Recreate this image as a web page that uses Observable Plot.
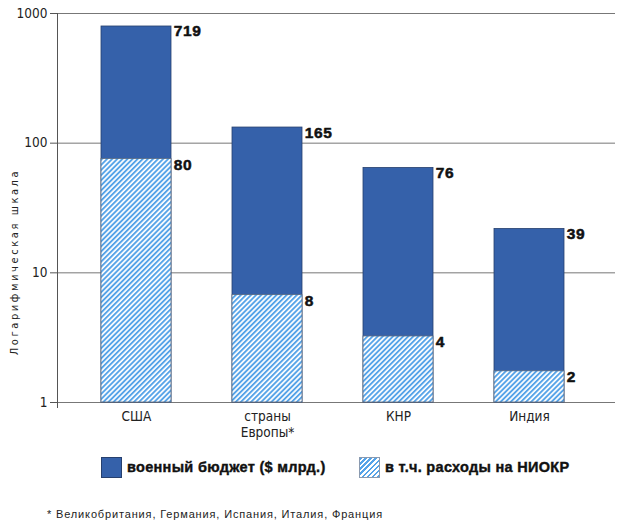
<!DOCTYPE html>
<html><head><meta charset="utf-8">
<script src="https://cdn.jsdelivr.net/npm/d3@7"></script>
<script src="https://cdn.jsdelivr.net/npm/@observablehq/plot@0.6"></script>
<style>
body{margin:0;background:#fff;font-family:"Liberation Sans",Arial,sans-serif;}
#wrap{position:relative;width:620px;height:530px;overflow:hidden;}
#wrap svg{position:absolute;left:0;top:0;}
.ylab{position:absolute;left:14px;top:262px;transform:translate(-50%,-50%) rotate(-90deg);white-space:nowrap;font-size:11px;letter-spacing:2.6px;color:#222;font-family:"DejaVu Sans Condensed","Liberation Sans",sans-serif;}
.leg{position:absolute;top:457px;height:21px;}
.sw{position:absolute;top:0;width:21px;height:21px;box-sizing:border-box;}
.lt{position:absolute;top:2px;white-space:nowrap;font-weight:bold;font-size:14.5px;letter-spacing:0.3px;color:#111;-webkit-text-stroke:0.4px #111;}
.foot{position:absolute;left:47px;top:508px;white-space:nowrap;font-size:11px;letter-spacing:0.85px;color:#222;}
.vlab{letter-spacing:0.6px;}
</style></head><body><div id="wrap"></div>
<script>
const countries = ["США", "страны\nЕвропы*", "КНР", "Индия"];
const budget = [794, 132, 64.4, 21.8];
const rnd = [75.5, 6.73, 3.23, 1.74];
const budgetLabels = ["719", "165", "76", "39"];
const rndLabels = ["80", "8", "4", "2"];
const yTicks = [1, 10, 100, 1000];
const legendLabels = ["военный бюджет ($ млрд.)", "в т.ч. расходы на НИОКР"];
const yLabel = "Логарифмическая шкала";
const footnote = "* Великобритания, Германия, Испания, Италия, Франция";

const data = countries.map((c, i) => ({country: c, budget: budget[i], rnd: rnd[i], bl: budgetLabels[i], rl: rndLabels[i]}));

const blue = "#3561aa";
const narrow = "'DejaVu Sans Condensed','Liberation Sans',sans-serif";
const bold = "'Liberation Sans',Arial,sans-serif";
const bw = 70.5;

const chart = Plot.plot({
  width: 620,
  height: 440,
  marginLeft: 57,
  marginRight: 5,
  marginTop: 13,
  marginBottom: 38,
  x: {domain: countries, range: [55, 611], paddingInner: 0.4627, paddingOuter: 0.35, label: null},
  y: {type: "log", domain: [1, 1000], label: null},
  marks: [
    Plot.ruleY(yTicks, {stroke: "#777", strokeWidth: 1}),
    Plot.barY(data, {x: "country", y1: 1, y2: "budget", fill: blue, stroke: "#27406e", strokeWidth: 0.8}),
    Plot.barY(data, {x: "country", y1: 1, y2: "rnd", fill: "url(#hatch)", stroke: "#5a6a80", strokeWidth: 0.8}),
    Plot.text(data, {x: "country", y: "budget", text: "bl", textAnchor: "start", dx: bw / 2 + 2, dy: 5, fontWeight: "bold", fontSize: 15.5, fontFamily: bold, fill: "#111", stroke: "#111", strokeWidth: 0.5, className: "vlab"}),
    Plot.text(data, {x: "country", y: "rnd", text: "rl", textAnchor: "start", dx: bw / 2 + 2, dy: 6, fontWeight: "bold", fontSize: 15.5, fontFamily: bold, fill: "#111", stroke: "#111", strokeWidth: 0.5, className: "vlab"}),
    Plot.axisY({ticks: yTicks, tickFormat: d => String(d), tickSize: 7, tickPadding: 3, fontSize: 13.5, fontFamily: narrow, label: null, stroke: "#555", fill: "#222"}),
    Plot.axisX({tickSize: 0, tickPadding: 7, fontSize: 13.5, fontFamily: narrow, label: null, fill: "#222", lineHeight: 1.2})
  ]
});

// hatch pattern
const svg = d3.select(chart);
const defs = svg.insert("defs", ":first-child");
const pat = defs.append("pattern").attr("id", "hatch").attr("patternUnits", "userSpaceOnUse")
  .attr("width", 3.6).attr("height", 3.6).attr("patternTransform", "rotate(45)");
pat.append("rect").attr("width", 3.6).attr("height", 3.6).attr("fill", "#ffffff");
pat.append("rect").attr("width", 1.9).attr("height", 3.6).attr("fill", "#55a3e8");

// y axis line
const ys = chart.scale("y");
svg.append("line").attr("x1", 57.5).attr("x2", 57.5)
  .attr("y1", ys.apply(1000)).attr("y2", ys.apply(1) + 6)
  .attr("stroke", "#555").attr("stroke-width", 1);

const wrap = document.getElementById("wrap");
wrap.appendChild(chart);

const yl = document.createElement("div");
yl.className = "ylab"; yl.textContent = yLabel; wrap.appendChild(yl);

function legendItem(left, swStyle, label) {
  const d = document.createElement("div");
  d.className = "leg"; d.style.left = left + "px";
  const s = document.createElement("div");
  s.className = "sw"; s.style.cssText = swStyle;
  const t = document.createElement("div");
  t.className = "lt"; t.style.left = "26px"; t.textContent = label;
  d.appendChild(s); d.appendChild(t); wrap.appendChild(d);
}
legendItem(101, "background:" + blue + ";border:1px solid #27406e;", legendLabels[0]);
legendItem(359, "background:repeating-linear-gradient(-45deg,#55a3e8 0 1.9px,#fff 1.9px 3.6px);border:1px solid #8a9ab0;", legendLabels[1]);

const f = document.createElement("div");
f.className = "foot"; f.textContent = footnote; wrap.appendChild(f);
</script>
</body></html>
